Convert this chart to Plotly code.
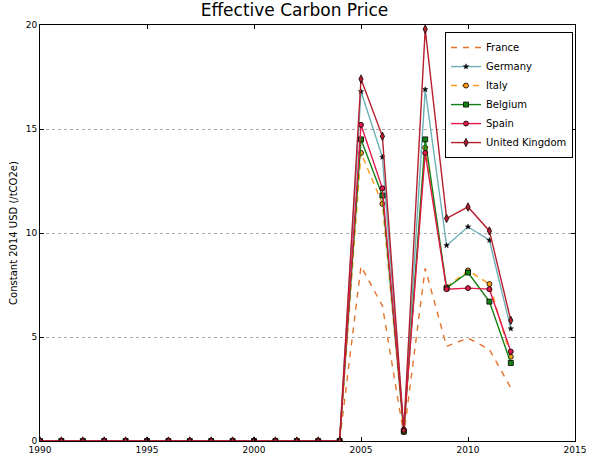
import plotly.graph_objects as go

years = list(range(1990, 2013))
zeros = [0.0] * 15  # 1990-2004

france = zeros + [8.4, 6.5, 0.3, 8.3, 4.55, 4.95, 4.4, 2.55]
germany = zeros + [16.8, 13.65, 0.5, 16.9, 9.4, 10.3, 9.65, 5.4]
italy = zeros + [13.85, 11.4, 0.45, 14.1, 7.4, 8.2, 7.55, 4.05]
belgium = zeros + [14.5, 11.8, 0.45, 14.5, 7.35, 8.1, 6.7, 3.75]
spain = zeros + [15.2, 12.15, 0.55, 13.85, 7.3, 7.35, 7.3, 4.3]
uk = zeros + [17.4, 14.65, 0.5, 19.8, 10.7, 11.25, 10.1, 5.8]

series = [
    ("France", france, dict(color="#e4732a", width=1.4, dash="6px,6px"), None),
    ("Germany", germany, dict(color="#6aafb5", width=1.4),
     dict(symbol="star", size=4, color="black", line=dict(color="black", width=0.5))),
    ("Italy", italy, dict(color="#ff9a1a", width=1.4, dash="6px,5px"),
     dict(symbol="circle", size=5, color="#ff9a1a", line=dict(color="black", width=0.8))),
    ("Belgium", belgium, dict(color="#138013", width=1.4),
     dict(symbol="square", size=5, color="#138013", line=dict(color="black", width=0.8))),
    ("Spain", spain, dict(color="#e0194a", width=1.4),
     dict(symbol="circle", size=5, color="#e0194a", line=dict(color="black", width=0.8))),
    ("United Kingdom", uk, dict(color="#b51f2e", width=1.4),
     dict(symbol="diamond-tall", size=6, color="#b51f2e", line=dict(color="black", width=0.8))),
]

fig = go.Figure()
for name, vals, line, marker in series:
    if marker is None:
        fig.add_trace(go.Scatter(x=years, y=vals, name=name, mode="lines", line=line))
    else:
        fig.add_trace(go.Scatter(x=years, y=vals, name=name, mode="lines+markers",
                                 line=line, marker=marker))

font = "DejaVu Sans"
fig.update_layout(
    width=589, height=456,
    margin=dict(l=40, r=14, t=25, b=15),
    paper_bgcolor="white", plot_bgcolor="white",
    font=dict(family=font, size=10, color="black"),
    title=dict(text="Effective Carbon Price", x=0.5, xanchor="center",
               y=0.99, yanchor="top", font=dict(size=17, family=font)),
    showlegend=True,
    legend=dict(x=0.757, y=0.983, xanchor="left", yanchor="top",
                bordercolor="black", borderwidth=1, bgcolor="white",
                font=dict(size=10, family=font), tracegroupgap=0, itemwidth=30),
    xaxis=dict(range=[1990, 2015], tickvals=[1990, 1995, 2000, 2005, 2010, 2015],
               showgrid=False, zeroline=False, showline=True, linecolor="black",
               linewidth=1, mirror="ticks", ticks="inside", ticklen=4,
               tickcolor="black", tickfont=dict(size=9), automargin=False),
    yaxis=dict(range=[0, 20], tickvals=[0, 5, 10, 15, 20],
               showgrid=True, gridcolor="#aaaaaa", griddash="dot", gridwidth=1,
               zeroline=False, showline=True, linecolor="black", linewidth=1,
               mirror="ticks", ticks="inside", ticklen=4, tickcolor="black",
               tickfont=dict(size=9), automargin=False,
               title=dict(text="Constant 2014 USD (/tCO2e)", font=dict(size=10), standoff=6)),
)

fig.write_html("out.html")
